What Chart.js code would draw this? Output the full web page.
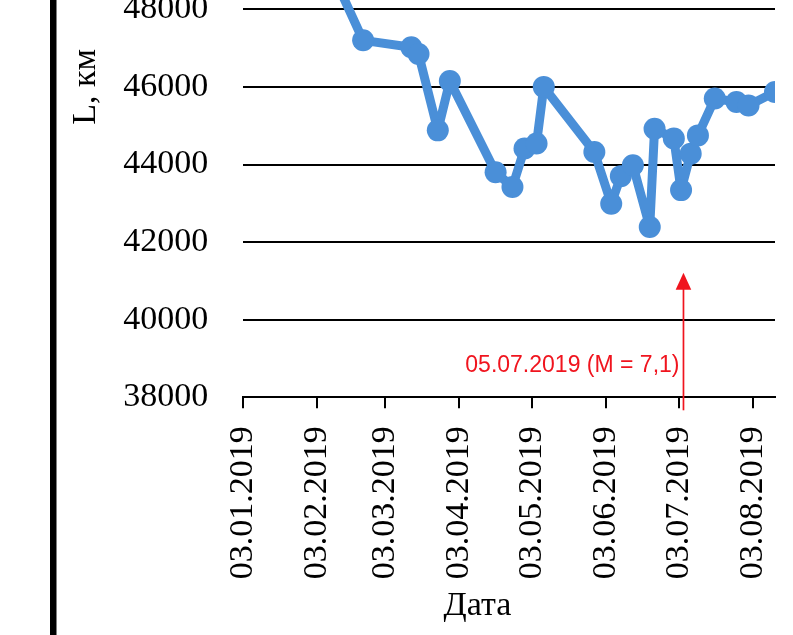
<!DOCTYPE html>
<html>
<head>
<meta charset="utf-8">
<script src="https://cdn.jsdelivr.net/npm/chart.js@4.4.1/dist/chart.umd.min.js"></script>
<style>
  html, body { margin: 0; padding: 0; background: #fff; overflow: hidden; width: 793px; height: 635px; position: relative; }
  #wrap { position: absolute; left: 0; top: -250px; width: 793px; height: 885px; }
</style>
</head>
<body>
<div id="wrap"><canvas id="c" width="793" height="885"></canvas></div>
<script>
// Observation dates (DD.MM.YYYY) and the measured distance L, km
const obsDates = [
  '03.01.2019', '22.01.2019', '22.02.2019', '14.03.2019', '17.03.2019',
  '25.03.2019', '30.03.2019', '18.04.2019', '25.04.2019', '30.04.2019',
  '05.05.2019', '08.05.2019', '29.05.2019', '05.06.2019', '09.06.2019',
  '14.06.2019', '21.06.2019', '23.06.2019', '01.07.2019', '04.07.2019',
  '08.07.2019', '11.07.2019', '18.07.2019', '27.07.2019', '01.08.2019',
  '12.08.2019'
];
const distanceKm = [
  52600, 51400, 47200, 47020, 46850,
  44880, 46150, 43800, 43420, 44410,
  44540, 46000, 44320, 42990, 43700,
  43980, 42390, 44920, 44670, 43340,
  44280, 44750, 45700, 45610, 45520,
  45870
];

// Date axis: range and monthly tick dates
const axisStart = '03.01.2019';
const axisEnd = '12.08.2019';
const dateTicks = [
  '03.01.2019', '03.02.2019', '03.03.2019', '03.04.2019',
  '03.05.2019', '03.06.2019', '03.07.2019', '03.08.2019'
];

// Distance axis
const yMin = 38000;
const yMax = 54000;
const yStep = 2000;

// Earthquake marker
const quakeDate = '05.07.2019';
const quakeLabel = '05.07.2019 (M = 7,1)';

const axisTitleX = 'Дата';
const axisTitleY = 'L, км';

function parseDate(s) {
  const [d, m, y] = s.split('.').map(Number);
  return Date.UTC(y, m - 1, d);
}
function formatDate(v) {
  const dt = new Date(v);
  const p = n => String(n).padStart(2, '0');
  return p(dt.getUTCDate()) + '.' + p(dt.getUTCMonth() + 1) + '.' + dt.getUTCFullYear();
}

const serif = '"Liberation Serif", "Times New Roman", serif';

const points = obsDates.map((d, i) => ({ x: parseDate(d), y: distanceKm[i] }));

const decor = {
  id: 'decor',
  beforeDraw(chart) {
    const ctx = chart.ctx;
    ctx.save();
    // heavy frame line on the left
    ctx.fillStyle = '#000';
    ctx.fillRect(50, 0, 6.5, chart.height);
    ctx.restore();
  },
  afterDatasetsDraw(chart) {
    const ctx = chart.ctx;
    const xs = chart.scales.x;
    const area = chart.chartArea;
    const x = xs.getPixelForValue(parseDate(quakeDate));
    const tipY = area.bottom - 124.6;
    const red = '#f0141e';
    ctx.save();
    ctx.strokeStyle = red;
    ctx.fillStyle = red;
    ctx.lineWidth = 1.7;
    ctx.beginPath();
    ctx.moveTo(x, area.bottom + 13);
    ctx.lineTo(x, tipY + 10);
    ctx.stroke();
    ctx.beginPath();
    ctx.moveTo(x, tipY);
    ctx.lineTo(x - 7.8, tipY + 17);
    ctx.lineTo(x + 7.8, tipY + 17);
    ctx.closePath();
    ctx.fill();
    ctx.font = '23px "Liberation Sans", Arial, sans-serif';
    ctx.textAlign = 'right';
    ctx.textBaseline = 'alphabetic';
    ctx.fillText(quakeLabel, x - 4, area.bottom - 25.5);
    ctx.restore();
  },
  afterDraw(chart) {
    const ctx = chart.ctx;
    ctx.save();
    ctx.fillStyle = '#000';
    ctx.font = '34px ' + serif;
    ctx.textAlign = 'center';
    ctx.textBaseline = 'alphabetic';
    ctx.fillText(axisTitleX, 477.5, 865);
    ctx.restore();
  }
};

new Chart(document.getElementById('c'), {
  type: 'line',
  data: {
    datasets: [{
      data: points,
      borderColor: '#4a8fd8',
      backgroundColor: '#4a8fd8',
      borderWidth: 9,
      pointRadius: 11,
      pointHoverRadius: 11,
      pointBorderWidth: 0,
      tension: 0,
      borderJoinStyle: 'round'
    }]
  },
  options: {
    responsive: false,
    devicePixelRatio: 1,
    animation: false,
    events: [],
    layout: { padding: { left: 0, right: 18, top: 26.5, bottom: 0 } },
    plugins: { legend: { display: false }, tooltip: { enabled: false } },
    scales: {
      x: {
        type: 'linear',
        position: 'bottom',
        min: parseDate(axisStart),
        max: parseDate(axisEnd),
        afterBuildTicks(s) { s.ticks = dateTicks.map(d => ({ value: parseDate(d) })); },
        afterFit(s) { s.height = 237.7; s.paddingLeft = 0; s.paddingRight = 0; },
        ticks: {
          autoSkip: false,
          minRotation: 90,
          maxRotation: 90,
          padding: 18,
          color: '#000',
          font: { family: serif, size: 34 },
          callback: v => formatDate(v)
        },
        grid: { drawOnChartArea: false, drawTicks: true, tickLength: 11, color: '#000', lineWidth: 2 },
        border: { display: true, color: '#000', width: 2 }
      },
      y: {
        min: yMin,
        max: yMax,
        afterFit(s) { s.width = 242.7; s.paddingTop = 0; s.paddingBottom = 0; },
        ticks: {
          stepSize: yStep,
          padding: 34.4,
          color: '#000',
          font: { family: serif, size: 34 },
          callback: v => String(v)
        },
        grid: { color: '#000', lineWidth: 2, drawTicks: false },
        border: { display: false },
        title: {
          display: true,
          text: axisTitleY,
          color: '#000',
          font: { family: serif, size: 34 },
          padding: { top: 66, bottom: 0 }
        }
      }
    }
  },
  plugins: [decor]
});
</script>
</body>
</html>
